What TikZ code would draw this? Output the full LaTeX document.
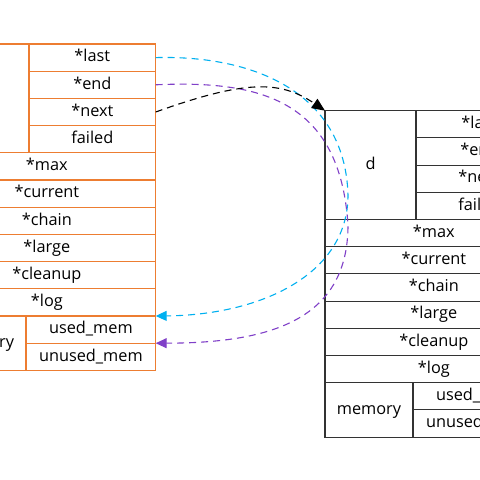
\documentclass[tikz,border=0pt]{standalone}
\usepackage{fontspec}
\setmainfont{Open Sans}
\usetikzlibrary{arrows.meta}
\definecolor{orangeline}{HTML}{ED7D31}
\definecolor{darkline}{HTML}{333333}
\definecolor{cyanlink}{HTML}{00B0F0}
\definecolor{purplelink}{HTML}{8040C8}
\newcommand\cellfont{\fontsize{16.3}{19}\selectfont}
\tikzset{
  cell/.style={draw, line width=1.1pt, anchor=north west, inner sep=0pt, outer sep=0pt,
    minimum height=27.2pt, font=\cellfont, text=black, text height=12pt, text depth=3.5pt},
  link/.style={line width=1.1pt, dash pattern=on 7pt off 5pt},
  linktip/.style={-{Triangle[length=11pt,width=10pt]}},
}
% #1 prefix, #2 x0, #3 y0, #4 colour
\newcommand\structcells[4]{%
  \node[cell, draw=#4, minimum width=91pt, minimum height=108.8pt] (#1head) at (#2,#3) {d};
  \node[cell, draw=#4, minimum width=126.7pt] (#1last) at (#1head.north east) {*last};
  \node[cell, draw=#4, minimum width=126.7pt] (#1end) at (#1last.south west) {*end};
  \node[cell, draw=#4, minimum width=126.7pt] (#1next) at (#1end.south west) {*next};
  \node[cell, draw=#4, minimum width=126.7pt] (#1failed) at (#1next.south west) {failed};
  \node[cell, draw=#4, minimum width=217.7pt] (#1max) at (#1head.south west) {*max};
  \node[cell, draw=#4, minimum width=217.7pt] (#1current) at (#1max.south west) {*current};
  \node[cell, draw=#4, minimum width=217.7pt] (#1chain) at (#1current.south west) {*chain};
  \node[cell, draw=#4, minimum width=217.7pt] (#1large) at (#1chain.south west) {*large};
  \node[cell, draw=#4, minimum width=217.7pt] (#1cleanup) at (#1large.south west) {*cleanup};
  \node[cell, draw=#4, minimum width=217.7pt] (#1log) at (#1cleanup.south west) {*log};
  \node[cell, draw=#4, minimum width=88pt, minimum height=54.4pt] (#1memory) at (#1log.south west) {memory};
  \node[cell, draw=#4, minimum width=129.7pt] (#1used) at (#1memory.north east) {used\_mem};
  \node[cell, draw=#4, minimum width=129.7pt] (#1unused) at (#1used.south west) {unused\_mem};
}
\begin{document}
\begin{tikzpicture}[x=1pt,y=-1pt]
  \useasboundingbox (0,0) rectangle (480,480);
  \clip (0,0) rectangle (480,480);
  \fill[white] (0,0) rectangle (480,480);
  \structcells{L}{-62}{44}{orangeline}
  \structcells{R}{325}{110.7}{darkline}
  \coordinate (cyanturn) at (348,195);
  \coordinate (purpleturn) at (348,225);
  \draw[link, cyanlink, linktip]
    (Llast.east) .. controls (250,55) and (345,90) .. (cyanturn)
    .. controls (348,275) and (260,315) .. (Lused.north east);
  \draw[link, purplelink, linktip]
    (Lend.east) .. controls (260,80) and (340,100) .. (purpleturn)
    .. controls (348,320) and (270,343) .. (Lunused.north east);
  \draw[link, black, -{Triangle[length=13pt,width=11pt]}]
    (Lnext.east) .. controls (245,80) and (280,80) .. (Rhead.north west);
\end{tikzpicture}
\end{document}
